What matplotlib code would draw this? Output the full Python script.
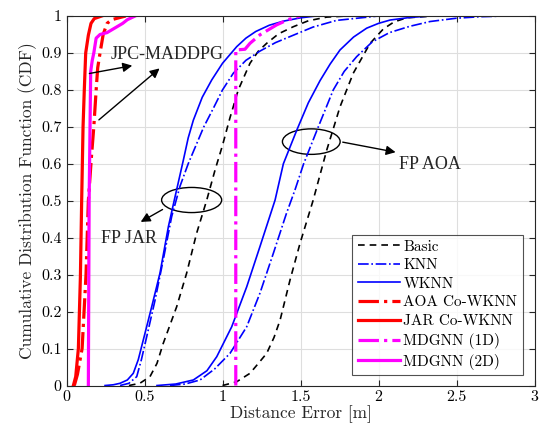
import matplotlib
matplotlib.use("Agg")
import matplotlib.pyplot as plt
from matplotlib.patches import Ellipse
from matplotlib.ticker import FuncFormatter

plt.rcParams['font.family'] = ['cmr10', 'DejaVu Serif']
plt.rcParams['axes.formatter.use_mathtext'] = True

# ---- data (distance error [m] vs CDF) ----
# JAR fingerprint group
basic_jar_x = [0.40, 0.47, 0.535, 0.58, 0.62, 0.706, 0.77, 0.834, 0.899, 0.952, 1.0, 1.048, 1.101, 1.176, 1.23, 1.283, 1.36, 1.454, 1.55, 1.668, 1.8]
basic_jar_y = [0.0, 0.006, 0.024, 0.06, 0.114, 0.213, 0.304, 0.412, 0.502, 0.583, 0.65, 0.725, 0.80, 0.872, 0.905, 0.926, 0.952, 0.971, 0.987, 0.997, 1.0]
knn_jar_x = [0.343, 0.40, 0.45, 0.48, 0.514, 0.567, 0.62, 0.674, 0.728, 0.78, 0.82, 0.88, 0.941, 1.0, 1.069, 1.15, 1.24, 1.34, 1.454, 1.58, 1.73, 2.0]
knn_jar_y = [0.0, 0.006, 0.024, 0.07, 0.132, 0.23, 0.34, 0.457, 0.54, 0.60, 0.64, 0.70, 0.75, 0.80, 0.845, 0.88, 0.905, 0.928, 0.948, 0.97, 0.988, 1.0]
wknn_jar_x = [0.247, 0.30, 0.343, 0.39, 0.428, 0.46, 0.492, 0.546, 0.599, 0.653, 0.69, 0.749, 0.78, 0.813, 0.87, 0.931, 1.0, 1.091, 1.15, 1.213, 1.3, 1.39, 1.5, 1.6]
wknn_jar_y = [0.0, 0.002, 0.006, 0.015, 0.033, 0.07, 0.123, 0.213, 0.304, 0.43, 0.50, 0.61, 0.67, 0.718, 0.78, 0.827, 0.872, 0.917, 0.94, 0.958, 0.975, 0.986, 0.995, 1.0]

# AOA fingerprint group
basic_aoa_x = [1.0, 1.09, 1.176, 1.23, 1.283, 1.33, 1.369, 1.433, 1.497, 1.58, 1.668, 1.753, 1.838, 1.946, 2.031, 2.1, 2.18, 2.35]
basic_aoa_y = [0.0, 0.01, 0.033, 0.06, 0.087, 0.13, 0.177, 0.286, 0.385, 0.50, 0.637, 0.754, 0.845, 0.926, 0.965, 0.984, 0.995, 1.0]
knn_aoa_x = [0.663, 0.76, 0.856, 0.95, 1.048, 1.155, 1.24, 1.326, 1.41, 1.465, 1.52, 1.614, 1.71, 1.78, 1.86, 1.96, 2.07, 2.2, 2.33, 2.5, 2.65, 2.82]
knn_aoa_y = [0.0, 0.004, 0.015, 0.045, 0.087, 0.159, 0.25, 0.358, 0.466, 0.53, 0.60, 0.70, 0.80, 0.85, 0.89, 0.93, 0.955, 0.972, 0.985, 0.994, 0.998, 1.0]
wknn_aoa_x = [0.58, 0.70, 0.813, 0.90, 0.963, 1.059, 1.155, 1.24, 1.337, 1.39, 1.476, 1.55, 1.625, 1.69, 1.753, 1.84, 1.924, 2.0, 2.074, 2.2, 2.33]
wknn_aoa_y = [0.0, 0.004, 0.015, 0.04, 0.078, 0.159, 0.267, 0.376, 0.502, 0.60, 0.691, 0.765, 0.825, 0.87, 0.908, 0.943, 0.967, 0.98, 0.989, 0.996, 1.0]

# cooperative / proposed methods
aoa_co_x = [0.05, 0.07, 0.10, 0.125, 0.14, 0.16, 0.175, 0.19, 0.20, 0.215, 0.235, 0.26, 0.29, 0.38]
aoa_co_y = [0.0, 0.03, 0.1, 0.3, 0.5, 0.62, 0.7, 0.8, 0.86, 0.9, 0.95, 0.98, 0.99, 1.0]
jar_co_x = [0.044, 0.059, 0.076, 0.089, 0.097, 0.106, 0.114, 0.123, 0.140, 0.157, 0.178, 0.226]
jar_co_y = [0.0, 0.024, 0.1, 0.294, 0.497, 0.7, 0.8, 0.9, 0.948, 0.98, 0.993, 1.0]
mdgnn1d_x = [1.085, 1.085, 1.144, 1.176, 1.24, 1.347, 1.42, 1.497]
mdgnn1d_y = [0.0, 0.908, 0.91, 0.926, 0.949, 0.976, 0.99, 1.0]
mdgnn2d_x = [0.14, 0.145, 0.155, 0.165, 0.175, 0.19, 0.215, 0.26, 0.32, 0.36, 0.39, 0.44]
mdgnn2d_y = [0.0, 0.5, 0.85, 0.88, 0.9, 0.94, 0.95, 0.955, 0.97, 0.98, 0.99, 1.0]

fig = plt.figure(figsize=(5.39, 4.32), dpi=100)
ax = fig.add_axes([0.1234, 0.1076, 0.8683, 0.8554])

thin = 1.2
thick = 2.3
l1, = ax.plot(basic_jar_x, basic_jar_y, 'k--', lw=thin, dashes=(4, 3))
ax.plot(basic_aoa_x, basic_aoa_y, 'k--', lw=thin, dashes=(4, 3))
l2, = ax.plot(knn_jar_x, knn_jar_y, color='b', lw=thin, ls='-.')
ax.plot(knn_aoa_x, knn_aoa_y, color='b', lw=thin, ls='-.')
l3, = ax.plot(wknn_jar_x, wknn_jar_y, color='b', lw=thin)
ax.plot(wknn_aoa_x, wknn_aoa_y, color='b', lw=thin)
l4, = ax.plot(aoa_co_x, aoa_co_y, color='r', lw=thick, ls='-.')
l5, = ax.plot(jar_co_x, jar_co_y, color='r', lw=thick)
l6, = ax.plot(mdgnn1d_x, mdgnn1d_y, color='magenta', lw=thick, ls='-.')
l7, = ax.plot(mdgnn2d_x, mdgnn2d_y, color='magenta', lw=thick)

ax.set_xlim(0, 3)
ax.set_ylim(0, 1)
ax.set_xticks([0, 0.5, 1, 1.5, 2, 2.5, 3])
ax.set_yticks([i / 10 for i in range(11)])
ax.xaxis.set_major_formatter(FuncFormatter(lambda v, p: f"{v:g}"))
ax.yaxis.set_major_formatter(FuncFormatter(lambda v, p: f"{v:g}"))
ax.grid(True, color='#dedede', lw=0.8)
ax.set_axisbelow(True)
ax.tick_params(direction='in', top=True, right=True, labelsize=11.5, length=4, color='#262626')
for s in ax.spines.values():
    s.set_color('#262626')
    s.set_linewidth(0.8)

ax.set_xlabel('Distance Error [m]', fontsize=12.5, color='#262626', labelpad=1)
ax.set_ylabel('Cumulative Distribution Function (CDF)', fontsize=12.5, color='#262626', labelpad=3)

leg = ax.legend([l1, l2, l3, l4, l5, l6, l7],
                ['Basic', 'KNN', 'WKNN', 'AOA Co-WKNN', 'JAR Co-WKNN', 'MDGNN (1D)', 'MDGNN (2D)'],
                loc='lower right', bbox_to_anchor=(0.975, 0.028), fontsize=11,
                frameon=True, fancybox=False, edgecolor='#262626', handlelength=2.8,
                handletextpad=0.2, borderpad=0.35, labelspacing=0.32, borderaxespad=0)
leg.get_frame().set_linewidth(0.8)

# annotations
ann_font = dict(family='Liberation Serif', fontsize=13, color='#262626')
arrow = dict(arrowstyle='-|>', color='k', lw=1.0, mutation_scale=14)
ax.text(0.647, 0.897, 'JPC-MADDPG', ha='center', va='center', **ann_font)
ax.annotate('', xy=(0.439, 0.867), xytext=(0.129, 0.843), arrowprops=arrow)
ax.annotate('', xy=(0.61, 0.863), xytext=(0.194, 0.714), arrowprops=arrow)

ax.add_patch(Ellipse((0.802, 0.502), 0.385, 0.068, fill=False, ec='k', lw=1.0))
ax.annotate('', xy=(0.46, 0.439), xytext=(0.631, 0.48), arrowprops=arrow)
ax.text(0.40, 0.399, 'FP JAR', ha='center', va='center', **ann_font)

ax.add_patch(Ellipse((1.569, 0.66), 0.37, 0.069, fill=False, ec='k', lw=1.0))
ax.annotate('', xy=(2.127, 0.63), xytext=(1.753, 0.66), arrowprops=arrow)
ax.text(2.332, 0.597, 'FP AOA', ha='center', va='center', **ann_font)

fig.savefig('out.png', dpi=100)
